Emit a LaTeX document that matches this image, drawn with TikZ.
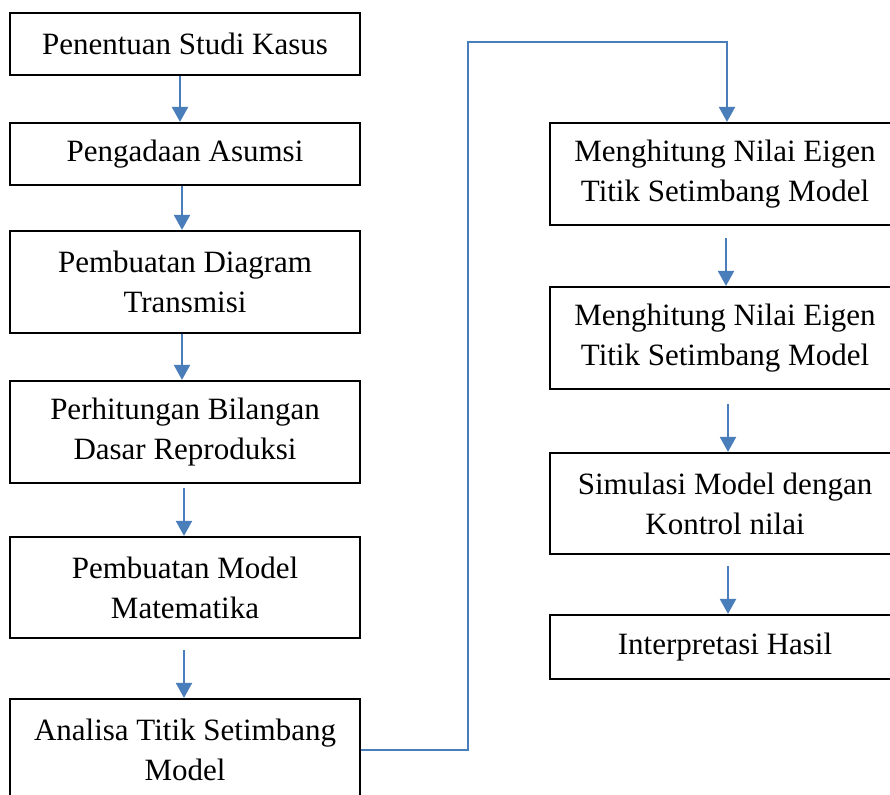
\documentclass[tikz,border=0pt]{standalone}
\usepackage{fontspec}
\setmainfont{Liberation Serif}
\usetikzlibrary{arrows.meta,positioning}
\definecolor{arrblue}{HTML}{4A7EBB}
\tikzset{
  box/.style={draw=black, line width=2.2pt, rectangle, minimum width=350pt, align=center, inner sep=0pt,
    font=\fontsize{31}{40}\selectfont},
  arr/.style={draw=arrblue, line width=2.2pt, -{Triangle[width=16pt,length=15pt]}}
}
\begin{document}
\begin{tikzpicture}[x=1pt,y=-1pt]
\useasboundingbox (0,0) rectangle (890,794);
\clip (0,0) rectangle (890,794);
\fill[white] (0,0) rectangle (890,794);
% left column
\node[box, minimum height=62pt]  (b1) at (185,44)  {Penentuan Studi Kasus};
\node[box, minimum height=62pt]  (b2) at (185,154) {Pengadaan Asumsi};
\node[box, minimum height=102pt] (b3) at (185,282) {Pembuatan Diagram\\Transmisi};
\node[box, minimum height=102pt] (b4) at (185,432) {Perhitungan Bilangan\\Dasar Reproduksi};
\node[box, minimum height=101pt] (b5) at (185,587.5) {Pembuatan Model\\Matematika};
\node[box, minimum height=102pt] (b6) at (185,750) {Analisa Titik Setimbang\\Model};
% right column
\node[box, minimum height=102pt] (r1) at (725,174) {Menghitung Nilai Eigen\\Titik Setimbang Model};
\node[box, minimum height=102pt] (r2) at (725,338) {Menghitung Nilai Eigen\\Titik Setimbang Model};
\node[box, minimum height=101pt] (r3) at (725,503.5) {Simulasi Model dengan\\Kontrol nilai};
\node[box, minimum height=64pt]  (r4) at (725,647) {Interpretasi Hasil};
% arrows left
\draw[arr] ([xshift=-5pt]b1.south) -- ([xshift=-5pt]b2.north);
\draw[arr] ([xshift=-3pt]b2.south) -- ([xshift=-3pt]b3.north);
\draw[arr] ([xshift=-3pt]b3.south) -- ([xshift=-3pt]b4.north);
\draw[arr, shorten <=4pt] ([xshift=-1pt]b4.south) -- ([xshift=-1pt]b5.north);
\draw[arr, shorten <=11pt] ([xshift=-1pt]b5.south) -- ([xshift=-1pt]b6.north);
% connector
\coordinate (c1) at (468,41.7);
\draw[arr] (b6.east) -| (c1) -| ([xshift=2pt]r1.north);
% arrows right
\draw[arr, shorten <=12pt] ([xshift=1pt]r1.south) -- ([xshift=1pt]r2.north);
\draw[arr, shorten <=14pt] ([xshift=3pt]r2.south) -- ([xshift=3pt]r3.north);
\draw[arr, shorten <=11pt] ([xshift=3pt]r3.south) -- ([xshift=3pt]r4.north);
\end{tikzpicture}
\end{document}
